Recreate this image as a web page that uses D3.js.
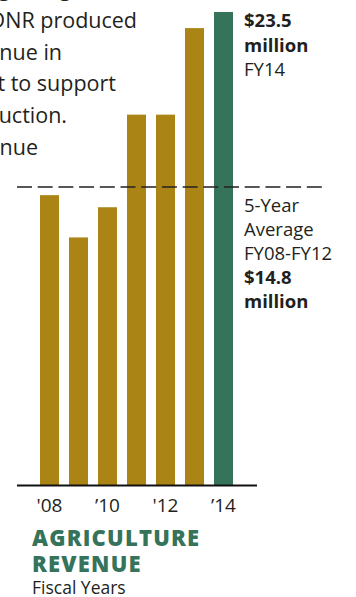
<!DOCTYPE html>
<html>
<head>
<meta charset="utf-8">
<script src="https://cdn.jsdelivr.net/npm/d3@7"></script>
<style>
html,body{margin:0;padding:0;background:#fff;}
svg{display:block;}
text{font-family:"Open Sans",sans-serif;}
</style>
</head>
<body>
<svg id="chart" width="356" height="597"></svg>
<script>
// ---- data ----
const years = ["FY08","FY09","FY10","FY11","FY12","FY13","FY14"];
const revenue = [14.4, 12.3, 13.8, 18.4, 18.4, 22.7, 23.5]; // $ million
const tickYears = ["FY08","FY10","FY12","FY14"];
const tickLabels = ["'08","\u201910","'12","\u201914"];
const average = 14.8;
const introLines = ["through grazing","leases, DNR produced","agriculture revenue in","sufficient to support","crop production.","and generate revenue"];
const topNote = [["$23.5",true],["million",true],["FY14",false]];
const avgNote = [["5-Year",false],["Average",false],["FY08-FY12",false],["$14.8",true],["million",true]];

// ---- style ----
const gold = "#AB8416", green = "#35735A", ink = "#231F20";
const svg = d3.select("#chart");

const x = d3.scaleBand().domain(years).range([40, 233]).paddingInner(0.345).paddingOuter(0);
const y = d3.scaleLinear().domain([0, 23.5]).range([485, 12]);

// intro paragraph (cropped at left)
const introEnds = [71, 137, 62, 116, 67, 38];
svg.append("g").selectAll("text").data(introLines).join("text")
  .attr("x", (d,i) => introEnds[i])
  .attr("y", (d,i) => -4 + i*31.8)
  .attr("text-anchor","end")
  .attr("font-size", 21.5)
  .attr("fill", ink)
  .text(d => d);

// bars
svg.append("g").selectAll("rect").data(years).join("rect")
  .attr("x", d => x(d))
  .attr("width", x.bandwidth())
  .attr("y", (d,i) => y(revenue[i]))
  .attr("height", (d,i) => y(0) - y(revenue[i]))
  .attr("fill", (d,i) => i === years.length-1 ? green : gold);

// average dashed line
svg.append("line")
  .attr("x1", 17).attr("x2", 322)
  .attr("y1", y(average)).attr("y2", y(average))
  .attr("stroke", ink).attr("stroke-width", 1.5)
  .attr("stroke-dasharray", "15,5.7");

// x axis
const xAxis = d3.axisBottom(x).tickValues(tickYears)
  .tickFormat(d => tickLabels[tickYears.indexOf(d)])
  .tickSize(0).tickPadding(0);
const ax = svg.append("g").attr("transform", `translate(0,${y(0)})`).call(xAxis);
ax.select(".domain").remove();
ax.selectAll("text").attr("dy", null).attr("y", 27)
  .attr("font-family", "'Open Sans',sans-serif")
  .attr("font-size", 19).attr("fill", ink);
svg.append("line").attr("x1", 17).attr("x2", 257)
  .attr("y1", y(0)+0.5).attr("y2", y(0)+0.5)
  .attr("stroke", "#111").attr("stroke-width", 2);

// annotations
function note(lines, x0, y0, dy){
  svg.append("g").selectAll("text").data(lines).join("text")
    .attr("x", x0).attr("y", (d,i) => y0 + i*dy)
    .attr("font-size", 18.5)
    .attr("font-weight", d => d[1] ? 700 : 400)
    .attr("fill", ink)
    .text(d => d[0]);
}
note(topNote, 244, 27, 24.5);
note(avgNote, 244, 212, 24);

// title
svg.append("text").attr("x", 32).attr("y", 546).attr("font-size", 22).attr("font-weight", 800)
  .attr("letter-spacing", 1.2).attr("fill", green).text("AGRICULTURE");
svg.append("text").attr("x", 32).attr("y", 572).attr("font-size", 22).attr("font-weight", 800)
  .attr("letter-spacing", 1.2).attr("fill", green).text("REVENUE");
svg.append("text").attr("x", 32).attr("y", 594).attr("font-size", 17.5)
  .attr("fill", ink).text("Fiscal Years");
</script>
</body>
</html>
